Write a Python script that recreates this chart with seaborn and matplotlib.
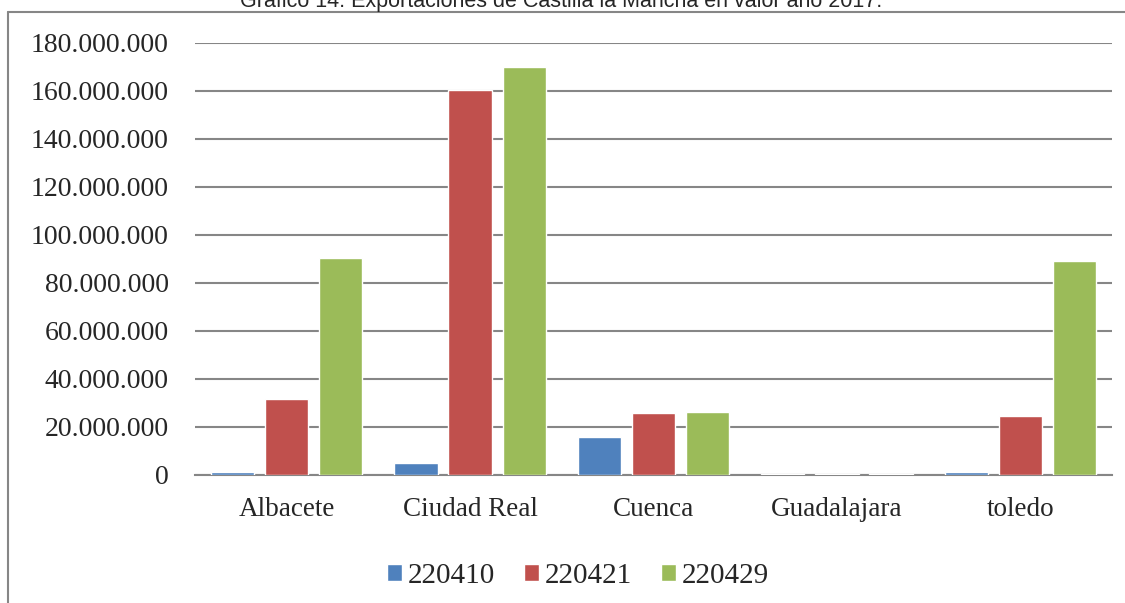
import pandas as pd
import matplotlib.pyplot as plt
import seaborn as sns
from matplotlib.lines import Line2D

# === DATOS ===
provincias = ["Albacete", "Ciudad Real", "Cuenca", "Guadalajara", "toledo"]
codigos = ["220410", "220421", "220429"]
v_220410 = [1_300_000, 4_900_000, 15_700_000, 300_000, 1_200_000]
v_220421 = [31_700_000, 160_400_000, 25_800_000, 300_000, 24_500_000]
v_220429 = [90_400_000, 170_000_000, 26_400_000, 300_000, 89_000_000]
colores = ["#4F81BD", "#C0504D", "#9BBB59"]
yticks = list(range(0, 180_000_001, 20_000_000))

df = pd.DataFrame({
    "provincia": provincias * 3,
    "codigo": [codigos[0]] * 5 + [codigos[1]] * 5 + [codigos[2]] * 5,
    "valor": v_220410 + v_220421 + v_220429,
})

sns.set_style("white")
plt.rcParams['font.family'] = ['Liberation Serif', 'DejaVu Serif']

fig = plt.figure(figsize=(11.25, 6.03), dpi=100)
ax = fig.add_axes([195 / 1125, 128 / 603, 917 / 1125, 432 / 603])

sns.barplot(data=df, x="provincia", y="valor", hue="codigo", palette=colores,
            saturation=1, width=0.885, gap=0.2, ax=ax, zorder=3)

ax.set_ylim(0, 180_000_000)
ax.set_xlim(-0.5, 4.5)
ax.set_yticks(yticks)
ax.set_yticklabels([f"{v:,}".replace(",", ".") for v in yticks])
ax.yaxis.grid(True, color="#868686", linewidth=1.5, zorder=0)
ax.set_axisbelow(True)
for s in ["top", "right", "left"]:
    ax.spines[s].set_visible(False)
ax.spines["bottom"].set_color("#868686")
ax.spines["bottom"].set_linewidth(1.5)
ax.tick_params(axis="y", length=0, pad=19, labelsize=20)
ax.tick_params(axis="x", length=0, pad=16, labelsize=19.5)
ax.set_xlabel("")
ax.set_ylabel("")

ax.legend(loc="center", bbox_to_anchor=(578 / 1125, 27 / 603),
          bbox_transform=fig.transFigure, ncol=3, frameon=False,
          fontsize=21, handlelength=0.5, handleheight=0.5,
          handletextpad=0.2, columnspacing=1.0)

# marco del grafico
fig.add_artist(Line2D([8 / 1125, 1], [591 / 603, 591 / 603], color="#868686", linewidth=1.5))
fig.add_artist(Line2D([8 / 1125, 8 / 1125], [0, 591 / 603], color="#868686", linewidth=1.5))

fig.text(561 / 1125, 596 / 603,
         "Gráfico 14: Exportaciones de Castilla la Mancha en valor año 2017.",
         ha="center", va="baseline", fontsize=15.5, family=["Liberation Sans", "DejaVu Sans"])

fig.savefig("out.png", dpi=100)
plt.close()
